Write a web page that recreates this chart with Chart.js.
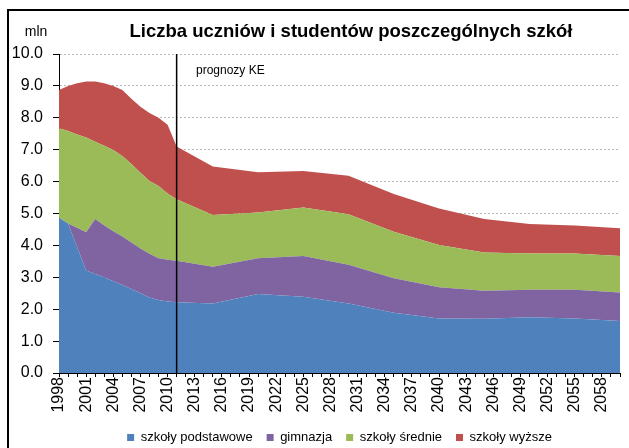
<!DOCTYPE html>
<html>
<head>
<meta charset="utf-8">
<script src="https://cdn.jsdelivr.net/npm/chart.js@4"></script>
<style>
  body { margin: 0; overflow: hidden; background: #fff; }
  #frame { position: absolute; left: 7px; top: 9px; width: 700px; height: 500px; border: 2px solid #000; }
  #wrap { position: absolute; left: 0; top: 0; }
</style>
</head>
<body>
<div id="frame"></div>
<div id="wrap"><canvas id="areaChart" width="629" height="454"></canvas></div>
<script>
// lata: dane roczne do 2011, dalej prognozy co 5 lat
const years = [1998, 1999, 2000, 2001, 2002, 2003, 2004, 2005, 2006, 2007, 2008, 2009, 2010, 2011,
  2015, 2020, 2025, 2030, 2035, 2040, 2045, 2050, 2055, 2060];
const podstawowe = [4.87, 4.69, 3.95, 3.21, 3.10, 3.00, 2.88, 2.76, 2.63, 2.50, 2.37, 2.29, 2.24, 2.22,
  2.18, 2.48, 2.39, 2.18, 1.89, 1.71, 1.70, 1.75, 1.71, 1.63];
const gimnazja = [0, 0, 0.60, 1.20, 1.73, 1.62, 1.56, 1.52, 1.46, 1.40, 1.37, 1.31, 1.31, 1.30,
  1.15, 1.12, 1.28, 1.21, 1.08, 0.98, 0.88, 0.86, 0.90, 0.89];
const srednie = [2.80, 2.90, 2.93, 2.97, 2.42, 2.50, 2.55, 2.52, 2.46, 2.38, 2.28, 2.26, 2.08, 1.93,
  1.62, 1.43, 1.52, 1.59, 1.46, 1.32, 1.20, 1.14, 1.14, 1.15];
const wyzsze = [1.20, 1.41, 1.60, 1.76, 1.89, 1.96, 2.01, 2.07, 2.05, 2.07, 2.13, 2.14, 2.15, 1.65,
  1.52, 1.26, 1.14, 1.20, 1.18, 1.15, 1.05, 0.92, 0.87, 0.87];
const seriesNames = ['szkoły podstawowe', 'gimnazja', 'szkoły średnie', 'szkoły wyższe'];
const xMin = 1998, xMax = 2060, labelStep = 3;
const forecastYear = 2011;

const colors = ['#4F81BD', '#8064A2', '#9BBB59', '#C0504D'];
const toPoints = arr => arr.map((v, i) => ({ x: years[i], y: v }));

const datasets = [podstawowe, gimnazja, srednie, wyzsze].map((arr, i) => ({
  label: seriesNames[i],
  data: toPoints(arr),
  backgroundColor: colors[i],
  borderColor: colors[i],
  borderWidth: 0,
  pointRadius: 0,
  tension: 0,
  fill: i === 0 ? 'origin' : '-1'
}));

// tytul, jednostka, linia prognozy
const extras = {
  id: 'extras',
  afterDatasetsDraw(chart) {
    const { ctx, chartArea, scales } = chart;
    const x = scales.x.getPixelForValue(forecastYear);
    ctx.save();
    ctx.strokeStyle = '#000';
    ctx.lineWidth = 1.5;
    ctx.beginPath();
    ctx.moveTo(x, chartArea.top);
    ctx.lineTo(x, chartArea.bottom);
    ctx.stroke();
    ctx.restore();
  },
  afterDraw(chart) {
    const { ctx } = chart;
    ctx.save();
    ctx.fillStyle = '#000';
    ctx.textBaseline = 'middle';
    ctx.font = 'bold 18.5px "Liberation Sans", Arial, sans-serif';
    ctx.textAlign = 'center';
    ctx.fillText('Liczba uczniów i studentów poszczególnych szkół', 351, 32);
    ctx.font = '14px "Liberation Sans", Arial, sans-serif';
    ctx.fillText('mln', 36, 32);
    ctx.textAlign = 'left';
    ctx.font = '12px "Liberation Sans", Arial, sans-serif';
    ctx.fillText('prognozy KE', 196, 71);
    ctx.restore();
  }
};

Chart.defaults.font.family = '"Liberation Sans", Arial, sans-serif';
Chart.defaults.color = '#000';

new Chart(document.getElementById('areaChart').getContext('2d'), {
  type: 'line',
  data: { datasets: datasets },
  options: {
    responsive: false,
    animation: false,
    layout: { padding: { top: 54, left: 0, right: 9, bottom: 0 } },
    plugins: {
      legend: {
        position: 'bottom',
        fullSize: false,
        labels: { boxWidth: 7, boxHeight: 7, padding: 14, font: { size: 13 }, color: '#000' }
      },
      tooltip: { enabled: false }
    },
    scales: {
      x: {
        type: 'linear',
        min: xMin,
        max: xMax,
        afterFit: s => { s.height = 44; s.paddingLeft = 0; s.paddingRight = 0; },
        ticks: {
          stepSize: 1,
          autoSkip: false,
          minRotation: 90,
          maxRotation: 90,
          padding: 0,
          font: { size: 16 },
          callback: v => ((v - xMin) % labelStep === 0 ? String(v) : '')
        },
        grid: { drawOnChartArea: false, drawTicks: true, tickLength: 4, color: '#000' },
        border: { color: '#000', width: 1 }
      },
      y: {
        stacked: true,
        min: 0,
        max: 10,
        afterFit: s => { s.width = 59; },
        ticks: { stepSize: 1, padding: 10, font: { size: 16 }, callback: v => v.toFixed(1) },
        grid: { color: '#b8b8b8', tickColor: '#000', tickLength: 6 },
        border: { color: '#000', width: 1, dash: [2, 2] }
      }
    }
  },
  plugins: [extras]
});
</script>
</body>
</html>
